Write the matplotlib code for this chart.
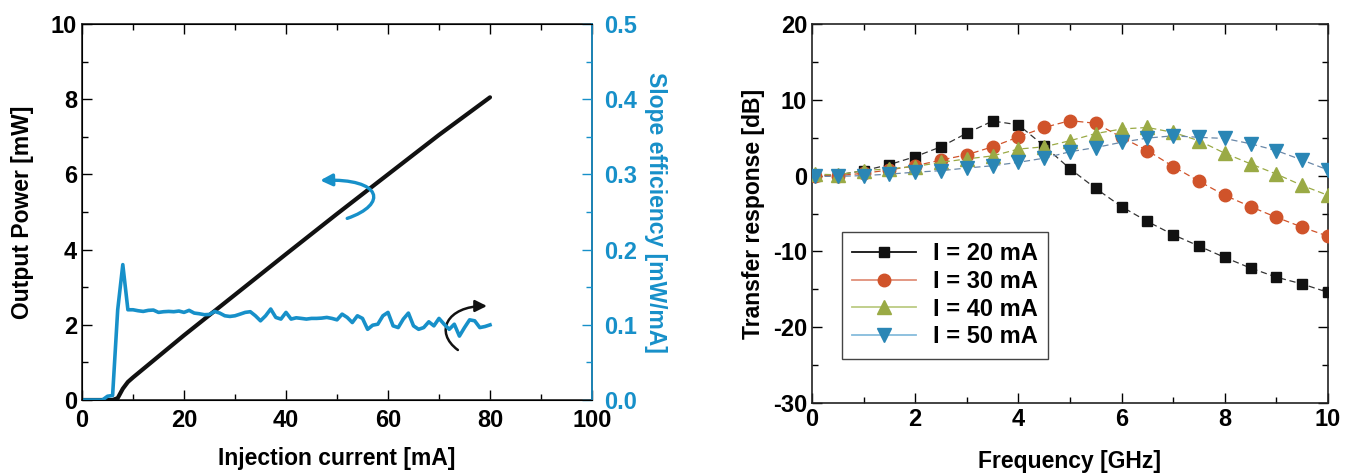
import matplotlib.pyplot as plt
import numpy as np
from matplotlib.lines import Line2D
from matplotlib.patches import FancyArrowPatch
from matplotlib.path import Path
from matplotlib.ticker import MultipleLocator

plt.rcParams["font.family"] = ["Liberation Sans", "DejaVu Sans"]
plt.rcParams["font.weight"] = "bold"
plt.rcParams["axes.unicode_minus"] = False

BLUE = "#1790c9"
TICK_FS = 17
LABEL_FS = 16.5

# ---- left panel: L-I curve and slope efficiency ----
li_current = [0, 5, 6, 7, 8, 9, 10, 20, 30, 40, 50, 60, 70, 80]
li_power = [0, 0, 0.0, 0.05, 0.3, 0.48, 0.6, 1.72, 2.8, 3.88, 4.95, 6.0, 7.05, 8.05]

se_current = list(range(0, 81))
se_value = [
    0, 0, 0, 0, 0, 0.005, 0.006, 0.12, 0.18, 0.120,
    0.120, 0.1187, 0.1178, 0.1192, 0.1196, 0.1165, 0.1174, 0.1178, 0.1174, 0.1183,
    0.1165, 0.1192, 0.1156, 0.1147, 0.1134, 0.1138, 0.1178, 0.1156, 0.112, 0.1111,
    0.112, 0.1142, 0.1165, 0.1174, 0.112, 0.1053, 0.112, 0.121, 0.1098, 0.1076,
    0.1165, 0.1076, 0.1093, 0.1085, 0.1076, 0.1085, 0.1085, 0.1089, 0.1098, 0.1085,
    0.1066, 0.1142, 0.1098, 0.103, 0.112, 0.1085, 0.094, 0.0995, 0.1008, 0.112,
    0.1165, 0.0986, 0.0963, 0.1076, 0.1156, 0.0986, 0.094, 0.0963, 0.104, 0.0986,
    0.1085, 0.1008, 0.094, 0.1008, 0.085, 0.0963, 0.1066, 0.1053, 0.0963, 0.0977,
    0.0999,
]

# ---- right panel: small-signal response ----
freq = [0.05, 0.5, 1.0, 1.5, 2.0, 2.5, 3.0, 3.5, 4.0, 4.5, 5.0,
        5.5, 6.0, 6.5, 7.0, 7.5, 8.0, 8.5, 9.0, 9.5, 10.0]
resp_20 = [0, 0.1, 0.65, 1.45, 2.5, 3.8, 5.6, 7.2, 6.7, 3.9, 0.9,
           -1.7, -4.1, -6.05, -7.8, -9.3, -10.8, -12.2, -13.4, -14.3, -15.4]
resp_30 = [0, 0, 0.3, 0.75, 1.3, 2.05, 2.75, 3.8, 5.1, 6.35, 7.25,
           6.9, 5.05, 3.3, 1.2, -0.75, -2.6, -4.1, -5.5, -6.8, -8.0]
resp_40 = [0.2, 0.1, 0.65, 0.9, 1.2, 1.75, 2.2, 2.6, 3.5, 3.8, 4.6,
           5.55, 6.15, 6.35, 5.7, 4.6, 2.95, 1.55, 0.2, -1.3, -2.6]
resp_50 = [-0.1, -0.1, 0, 0.2, 0.45, 0.65, 1.0, 1.3, 1.75, 2.3, 3.15,
           3.7, 4.4, 4.95, 5.25, 5.05, 4.9, 4.2, 3.3, 2.05, 0.75]
labels = ["I = 20 mA", "I = 30 mA", "I = 40 mA", "I = 50 mA"]


def bold_ticks(ax):
    for lab in ax.get_xticklabels() + ax.get_yticklabels():
        lab.set_fontweight("bold")


fig = plt.figure(figsize=(13.53, 4.75), dpi=100)

ax1 = fig.add_axes([82 / 1353, 75 / 475, 510 / 1353, 376 / 475])
ax1.plot(li_current, li_power, color="#111111", lw=3, solid_capstyle="round", zorder=3)
ax1.set_xlim(0, 100)
ax1.set_ylim(0, 10)
ax1.xaxis.set_major_locator(MultipleLocator(20))
ax1.xaxis.set_minor_locator(MultipleLocator(10))
ax1.yaxis.set_major_locator(MultipleLocator(2))
ax1.yaxis.set_minor_locator(MultipleLocator(1))
ax1.tick_params(which="both", direction="in", top=True, right=False, labelsize=TICK_FS, width=1)
ax1.tick_params(which="major", length=7)
ax1.tick_params(which="minor", length=4)
ax1.tick_params(axis="x", pad=6.5)
ax1.set_xlabel("Injection current [mA]", fontsize=LABEL_FS, fontweight="bold", labelpad=11)
ax1.set_ylabel("Output Power [mW]", fontsize=LABEL_FS, fontweight="bold", labelpad=12)
for s in ax1.spines.values():
    s.set_linewidth(1.2)
    s.set_color("#222222")
bold_ticks(ax1)

ax2 = ax1.twinx()
ax2.plot(se_current, se_value, color=BLUE, lw=2.6, zorder=2)
ax2.set_ylim(0, 0.5)
ax2.yaxis.set_major_locator(MultipleLocator(0.1))
ax2.yaxis.set_minor_locator(MultipleLocator(0.05))
ax2.yaxis.set_major_formatter(plt.FormatStrFormatter("%.1f"))
ax2.tick_params(which="both", direction="in", colors=BLUE, labelsize=TICK_FS, width=1, pad=9)
ax2.tick_params(which="major", length=7)
ax2.tick_params(which="minor", length=4)
ax2.set_ylabel("Slope efficiency [mW/mA]", color=BLUE, fontsize=LABEL_FS, fontweight="bold",
               rotation=270, labelpad=21)
ax2.spines["right"].set_color(BLUE)
ax2.spines["right"].set_linewidth(1.2)
bold_ticks(ax2)

# curved arrows pointing to the axes
blue_arrow = Path([(52, 4.83), (60, 5.2), (59, 5.9), (46.7, 5.84)],
                  [Path.MOVETO, Path.CURVE4, Path.CURVE4, Path.CURVE4])
ax1.add_patch(FancyArrowPatch(path=blue_arrow, arrowstyle="-|>,head_length=7,head_width=3.5",
                              color=BLUE, lw=2.4, zorder=4))
black_arrow = Path([(73.7, 1.33), (69.0, 1.8), (71.5, 2.5), (79.4, 2.5)],
                   [Path.MOVETO, Path.CURVE4, Path.CURVE4, Path.CURVE4])
ax1.add_patch(FancyArrowPatch(path=black_arrow, arrowstyle="-|>,head_length=7,head_width=3.5",
                              color="#111111", lw=1.8, zorder=4))

# ---- right panel ----
ax3 = fig.add_axes([812 / 1353, 72 / 475, 516 / 1353, 379 / 475])
styles = [
    ("#111111", "#111111", "#333333", "s", 7.5),
    ("#d0532a", "#e0907a", "#d0532a", "o", 9),
    ("#9aaa45", "#bccb84", "#9aaa45", "^", 10),
    ("#2a86b5", "#86bcdc", "#6a88a8", "v", 10),
]
series = [resp_20, resp_30, resp_40, resp_50]
handles = []
for vals, (mc, lc, dc, mk, ms), lab in zip(series, styles, labels):
    ax3.plot(freq, vals, color=dc, lw=0.9, ls=(0, (5, 3)), marker=mk, ms=ms,
             mfc=mc, mec=mc, zorder=3)
    handles.append(Line2D([], [], color=lc, lw=1.3, marker=mk, ms=ms, mfc=mc, mec=mc))

ax3.set_xlim(0, 10)
ax3.set_ylim(-30, 20)
ax3.xaxis.set_major_locator(MultipleLocator(2))
ax3.xaxis.set_minor_locator(MultipleLocator(1))
ax3.yaxis.set_major_locator(MultipleLocator(10))
ax3.yaxis.set_minor_locator(MultipleLocator(5))
ax3.tick_params(which="both", direction="in", top=True, right=True, labelsize=TICK_FS, width=1)
ax3.tick_params(which="major", length=7)
ax3.tick_params(which="minor", length=4)
ax3.set_xlabel("Frequency [GHz]", fontsize=LABEL_FS, fontweight="bold", labelpad=14)
ax3.set_ylabel("Transfer response [dB]", fontsize=LABEL_FS, fontweight="bold", labelpad=6)
for s in ax3.spines.values():
    s.set_linewidth(1.2)
    s.set_color("#222222")
bold_ticks(ax3)

leg = ax3.legend(handles, labels, loc="lower left", bbox_to_anchor=(0.035, 0.085),
                 fontsize=17, handlelength=2.7, handletextpad=0.7, labelspacing=0.2,
                 borderpad=0.45, fancybox=False, framealpha=1, edgecolor="#444444")
leg.get_frame().set_linewidth(1.0)
for t in leg.get_texts():
    t.set_fontweight("bold")

fig.savefig("out.png", dpi=100)
